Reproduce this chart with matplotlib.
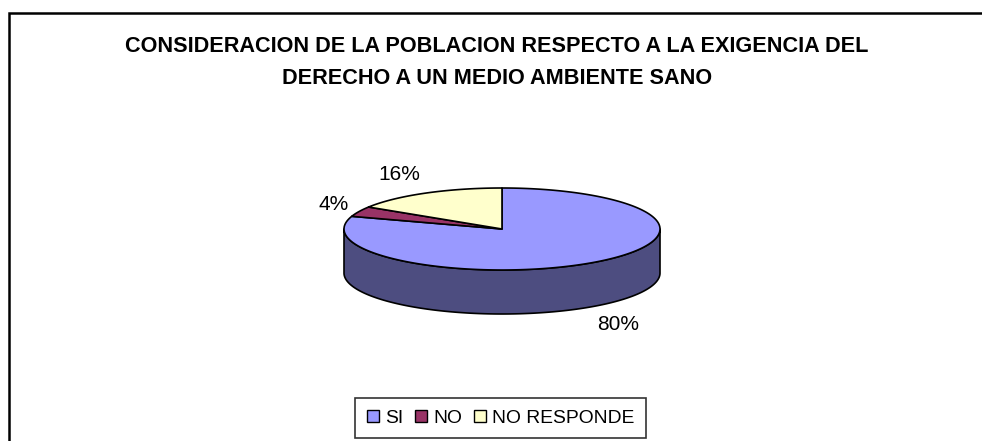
import numpy as np
import matplotlib
matplotlib.use("Agg")
import matplotlib.pyplot as plt
from matplotlib.patches import Polygon
from matplotlib.lines import Line2D

# ---- data ----
categories = ["SI", "NO", "NO RESPONDE"]
values = [80, 4, 16]
labels = ["80%", "4%", "16%"]
title_lines = ["CONSIDERACION DE LA POBLACION RESPECTO A LA EXIGENCIA DEL",
               "DERECHO A UN MEDIO AMBIENTE SANO"]

# ---- style ----
top_colors = ["#9999FF", "#993366", "#FFFFCC"]
side_colors = ["#4D4D80", "#4D1A33", "#80806A"]
FONT = "Liberation Sans"

W, H = 982, 441
fig = plt.figure(figsize=(W / 100, H / 100), dpi=100)
ax = fig.add_axes([0, 0, 1, 1])
ax.set_xlim(0, W)
ax.set_ylim(H, 0)
ax.axis("off")

# outer chart border (cropped at right & bottom)
ax.plot([9, 9, 990], [460, 12.5, 12.5], color="black", lw=1.8, solid_joinstyle="miter")

# pie geometry (pixel space)
cx, cy, rx, ry, depth = 502, 229, 158, 41, 44

def pt(theta_deg):
    t = np.radians(theta_deg)
    return cx + rx * np.cos(t), cy - ry * np.sin(t)

total = float(sum(values))
start = 90.0
angles = []
a = start
for v in values:
    a2 = a - 360.0 * v / total
    angles.append((a, a2))
    a = a2

# side walls (front half: 180..360)
for (a1, a2), sc in zip(angles, side_colors):
    lo, hi = min(a1, a2), max(a1, a2)
    segs = []
    for off in (-360, 0, 360):
        s = max(lo + off, 180)
        e = min(hi + off, 360)
        if e > s:
            segs.append((s, e))
    for s, e in segs:
        th = np.linspace(s, e, 200)
        xs, ys = pt(th)
        poly = np.column_stack([np.concatenate([xs, xs[::-1]]),
                                np.concatenate([ys, ys[::-1] + depth])])
        ax.add_patch(Polygon(poly, closed=True, facecolor=sc, edgecolor="black",
                             lw=1.2, joinstyle="round"))

# top slices
for (a1, a2), tc in zip(angles, top_colors):
    th = np.linspace(a1, a2, 300)
    xs, ys = pt(th)
    poly = np.column_stack([np.concatenate([[cx], xs]), np.concatenate([[cy], ys])])
    ax.add_patch(Polygon(poly, closed=True, facecolor=tc, edgecolor="black",
                         lw=1.2, joinstyle="round"))

# percentage labels
label_pos = [(618, 325), (334, 205), (399, 175)]
for lab, (lx, ly) in zip(labels, label_pos):
    ax.text(lx, ly, lab, ha="center", va="center", fontsize=15,
            family=FONT, color="black")

# title
for i, line in enumerate(title_lines):
    ax.text(497, 46 + 32 * i, line, ha="center", va="center", fontsize=15.6,
            family=FONT, fontweight="bold", color="black")

# legend
handles = [Line2D([0], [0], marker="s", linestyle="none", markersize=8,
                  markerfacecolor=c, markeredgecolor="black", markeredgewidth=1)
           for c in top_colors]
leg = fig.legend(handles, categories, loc="center", ncol=3,
                 bbox_to_anchor=(500.5 / W, 1 - 418 / H),
                 prop={"family": FONT, "size": 13.9}, frameon=True, fancybox=False,
                 handlelength=0.7, handletextpad=0.3, columnspacing=0.55,
                 borderpad=0.6, borderaxespad=0)
leg.get_frame().set_edgecolor("black")
leg.get_frame().set_linewidth(1.2)

fig.savefig("out.png", dpi=100)
